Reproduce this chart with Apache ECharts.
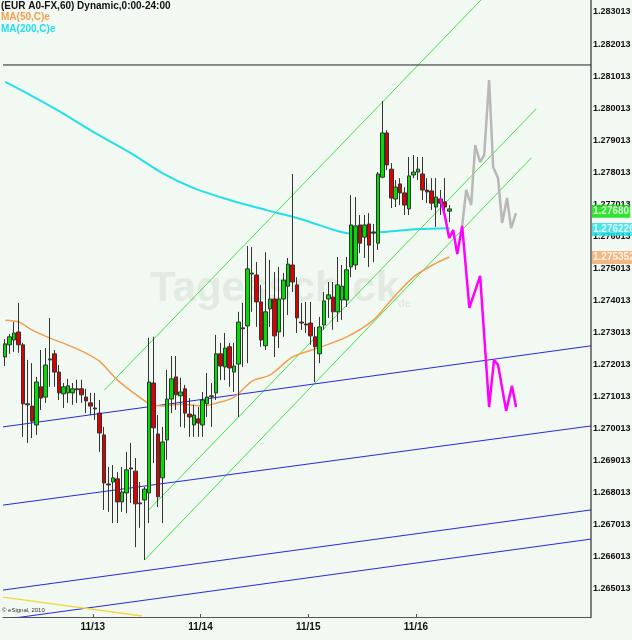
<!DOCTYPE html>
<html><head><meta charset="utf-8">
<script src="https://cdn.jsdelivr.net/npm/echarts@6/dist/echarts.min.js"></script>
<style>html,body{margin:0;padding:0;background:#f2f8f2}#c{width:632px;height:640px}</style>
</head><body><div id="c"></div>
<script>
// Candles: [open, close, low, high]
const candles = [
[1.27225,1.27266,1.27197,1.27281],[1.27263,1.27288,1.27235,1.27297],[1.27278,1.27300,1.27241,1.27334],[1.27303,1.27263,1.27238,1.27394],
[1.27263,1.27079,1.26976,1.27269],[1.27079,1.27076,1.26957,1.27216],[1.27072,1.27025,1.26972,1.27206],[1.27013,1.27147,1.26982,1.27163],
[1.27132,1.27097,1.27060,1.27247],[1.27100,1.27200,1.27082,1.27253],[1.27216,1.27219,1.27132,1.27347],[1.27235,1.27178,1.27132,1.27247],
[1.27178,1.27113,1.27091,1.27200],[1.27110,1.27132,1.27066,1.27144],[1.27113,1.27135,1.27082,1.27157],[1.27113,1.27126,1.27076,1.27144],
[1.27126,1.27123,1.27082,1.27154],[1.27126,1.27107,1.27082,1.27154],[1.27100,1.27088,1.27050,1.27126],[1.27082,1.27072,1.27044,1.27113],
[1.27066,1.27063,1.27029,1.27113],[1.27050,1.26988,1.26929,1.27091],[1.26982,1.26832,1.26748,1.27007],[1.26829,1.26826,1.26742,1.26882],
[1.26835,1.26848,1.26707,1.26888],[1.26845,1.26773,1.26707,1.26866],[1.26773,1.26804,1.26742,1.26882],[1.26801,1.26873,1.26738,1.26929],
[1.26879,1.26876,1.26770,1.26957],[1.26869,1.26767,1.26632,1.26910],[1.26770,1.26767,1.26692,1.26835],[1.26779,1.26813,1.26592,1.26820],
[1.26801,1.27147,1.26707,1.27285],[1.27144,1.27004,1.26894,1.27288],[1.26985,1.26789,1.26757,1.27044],[1.26848,1.26960,1.26707,1.27007],
[1.26966,1.27094,1.26904,1.27185],[1.27094,1.27157,1.27050,1.27228],[1.27163,1.27107,1.27060,1.27228],[1.27104,1.27116,1.27007,1.27160],
[1.27126,1.27050,1.27004,1.27138],[1.27047,1.27038,1.26976,1.27097],[1.27013,1.27044,1.26976,1.27076],[1.27032,1.27019,1.26976,1.27069],
[1.27013,1.27091,1.26976,1.27116],[1.27079,1.27100,1.27038,1.27175],[1.27104,1.27101,1.27007,1.27144],[1.27113,1.27235,1.27091,1.27294],
[1.27235,1.27197,1.27153,1.27269],[1.27194,1.27253,1.27153,1.27300],[1.27257,1.27191,1.27132,1.27269],[1.27178,1.27197,1.27116,1.27269],
[1.27203,1.27334,1.27038,1.27366],[1.27316,1.27313,1.27194,1.27394],[1.27322,1.27500,1.27206,1.27571],[1.27487,1.27484,1.27366,1.27568],
[1.27481,1.27397,1.27319,1.27521],[1.27397,1.27278,1.27257,1.27450],[1.27260,1.27366,1.27247,1.27552],[1.27375,1.27406,1.27319,1.27528],
[1.27406,1.27291,1.27225,1.27490],[1.27303,1.27406,1.27253,1.27506],[1.27406,1.27465,1.27288,1.27487],[1.27446,1.27515,1.27356,1.27534],
[1.27512,1.27459,1.27428,1.27796],[1.27450,1.27347,1.27300,1.27474],[1.27334,1.27331,1.27310,1.27394],[1.27328,1.27325,1.27300,1.27397],
[1.27331,1.27291,1.27263,1.27397],[1.27288,1.27257,1.27147,1.27319],[1.27235,1.27319,1.27206,1.27350],[1.27325,1.27400,1.27310,1.27428],
[1.27406,1.27419,1.27347,1.27459],[1.27412,1.27366,1.27310,1.27459],[1.27366,1.27450,1.27334,1.27537],[1.27403,1.27446,1.27341,1.27512],
[1.27403,1.27497,1.27381,1.27537],[1.27506,1.27637,1.27474,1.27730],[1.27512,1.27634,1.27497,1.27724],[1.27637,1.27580,1.27549,1.27668],
[1.27599,1.27637,1.27534,1.27668],[1.27640,1.27574,1.27506,1.27674],[1.27615,1.27612,1.27521,1.27640],[1.27580,1.27796,1.27559,1.27802],
[1.27786,1.27924,1.27783,1.28024],[1.27924,1.27824,1.27808,1.27933],[1.27811,1.27721,1.27690,1.27830],[1.27718,1.27755,1.27693,1.27777],
[1.27765,1.27737,1.27699,1.27783],[1.27737,1.27699,1.27668,1.27755],[1.27687,1.27790,1.27668,1.27849],[1.27793,1.27802,1.27783,1.27855],
[1.27802,1.27811,1.27777,1.27849],[1.27796,1.27746,1.27715,1.27849],[1.27746,1.27740,1.27705,1.27783],[1.27743,1.27705,1.27684,1.27783],
[1.27693,1.27724,1.27631,1.27783],[1.27718,1.27705,1.27668,1.27746],[1.27709,1.27693,1.27659,1.27783],[1.27680,1.27687,1.27646,1.27699]
];
const ma200 = [[0,1.28083],[6,1.28039],[12,1.27992],[20,1.27924],[28,1.27861],[35,1.27799],[42,1.27752],[50,1.27715],[58,1.27684],[66,1.27655],[74,1.27618],[78,1.27609],[84,1.27615],[92,1.27624],[99,1.27627]];
const ma50 = [[0,1.27340],[3,1.27334],[6,1.27309],[10,1.27284],[14,1.27262],[18,1.27237],[21,1.27212],[25,1.27153],[29,1.27109],[32,1.27081],[35,1.27072],[39,1.27078],[44,1.27072],[47,1.27081],[51,1.27100],[55,1.27150],[59,1.27169],[64,1.27225],[69,1.27250],[76,1.27287],[82,1.27340],[86,1.27403],[91,1.27475],[96,1.27518],[99,1.27537]];
const greenLines = [
 [[22.1,1.27122],[106.0,1.28339]],
 [[31.9,1.26747],[118.3,1.27999]],
 [[31.0,1.26591],[117.2,1.27846]]
];
const blueLines = [
 [[-0.5,1.27007],[130.5,1.27260]],
 [[-0.5,1.26763],[130.5,1.27010]],
 [[-0.5,1.26498],[130.5,1.26748]],
 [[-0.5,1.26406],[130.5,1.26657]]
];
const yellowLine = [[-0.5,1.26476],[30.5,1.26417]];
const blackLevel = [[-0.5,1.28136],[130.5,1.28136]];
const grayPath = [[101.8,1.27634],[102.7,1.27746],[103.8,1.27699],[104.7,1.27886],[105.8,1.27833],[106.7,1.27855],[107.8,1.28089],[108.7,1.27818],[109.8,1.27783],[110.7,1.27643],[111.8,1.27721],[112.7,1.27627],[113.8,1.27674]];
const magentaPath = [[96.9,1.27721],[98.0,1.27662],[98.9,1.27596],[99.8,1.27621],[100.7,1.27546],[101.8,1.27634],[103.4,1.27378],[105.8,1.27478],[107.8,1.27069],[108.9,1.27216],[109.8,1.27200],[111.6,1.27057],[112.9,1.27135],[113.8,1.27069]];
const yTicks = [1.265013,1.266013,1.267013,1.268013,1.269013,1.270013,1.271013,1.272013,1.273013,1.274013,1.275013,1.276013,1.277013,1.278013,1.279013,1.280013,1.281013,1.282013,1.283013];
const dayTicks = [19.5,43.5,67.5,91.5];
const dayLabels = ['11/13','11/14','11/15','11/16'];
const lastTags = [[1.27680,'1.27680','#00dd00'],[1.276226,'1.276226','#22dde6'],[1.275352,'1.275352','#f0a868']];

const N = 131;
const cats = Array.from({length:N},(_,i)=>String(i));
const F = 'Liberation Sans, Arial, sans-serif';
const line = (data,color,w,extra)=>Object.assign({type:'line',xAxisIndex:1,data,symbol:'none',silent:true,
  lineStyle:{color,width:w},z:2},extra||{});

const series = [];
greenLines.forEach(d=>series.push(line(d,'#44e044',1)));
blueLines.forEach(d=>series.push(line(d,'#2828dd',1)));
series.push(line(yellowLine,'#f0d840',1.5));
series.push(line(blackLevel,'#222',1));
series.push(line(ma200,'#22e0ea',2,{smooth:0.3}));
series.push(line(ma50,'#f0a050',1.5,{smooth:0.3}));
series.push({type:'candlestick',data:candles,barWidth:4,z:3,
  itemStyle:{color:'#00dd00',color0:'#dd0000',borderColor:'#333',borderColor0:'#333',borderWidth:1}});
series.push(line(grayPath,'#b8b8b8',2.5,{z:4}));
series.push(line(magentaPath,'#ff00ff',2.5,{z:5}));
series.push({type:'scatter',xAxisIndex:1,symbolSize:0,silent:true,clip:false,z:10,
  data:lastTags.map(t=>({value:[130.5,t[0]],label:{show:true,position:'right',distance:1,formatter:t[1],
    backgroundColor:t[2],color:'#fff',fontFamily:F,fontSize:10,fontWeight:'bold',padding:[2,1,1,1]}}))});

const chart = echarts.init(document.getElementById('c'));
chart.setOption({
  backgroundColor:'#f2f8f2',
  animation:false,
  grid:{left:3,right:41,top:0,bottom:23,outerBoundsMode:'none',containLabel:false},
  xAxis:[
    {type:'category',data:cats,boundaryGap:true,axisLine:{lineStyle:{color:'#555'}},axisTick:{show:false},axisLabel:{show:false}},
    {type:'value',min:-0.5,max:130.5,position:'bottom',axisLine:{show:false},splitLine:{show:false},
     axisTick:{show:true,customValues:dayTicks,length:3,inside:true,lineStyle:{color:'#555'}},
     axisLabel:{customValues:dayTicks,fontFamily:F,fontSize:10,fontWeight:'bold',color:'#111',margin:5,
       formatter:v=>dayLabels[dayTicks.indexOf(v)]||''}}
  ],
  yAxis:{type:'value',position:'right',min:1.26414,max:1.283387,scale:true,
    axisLine:{show:true,onZero:false,lineStyle:{color:'#555',width:1.5}},axisTick:{show:false},splitLine:{show:false},
    axisLabel:{customValues:yTicks,formatter:v=>v.toFixed(6),fontFamily:F,fontSize:9,fontWeight:'bold',color:'#111',margin:2}},
  graphic:[
    {type:'text',left:150,top:268,z:0,style:{text:'Tagesschick',font:'bold 42px '+F,fill:'#e2eae2'}},
    {type:'text',left:398,top:298,z:0,style:{text:'de',font:'bold 11px '+F,fill:'#e2eae2'}},
    {type:'text',left:1,top:1,style:{text:'(EUR A0-FX,60) Dynamic,0:00-24:00',font:'bold 10px '+F,fill:'#111'}},
    {type:'text',left:1,top:12,style:{text:'MA(50,C)e',font:'bold 10px '+F,fill:'#f0a050'}},
    {type:'text',left:1,top:24,style:{text:'MA(200,C)e',font:'bold 10px '+F,fill:'#22e0ea'}},
    {type:'text',left:2,top:607,style:{text:'© eSignal, 2010',font:'6px '+F,fill:'#333'}}
  ],
  series
});
</script></body></html>
